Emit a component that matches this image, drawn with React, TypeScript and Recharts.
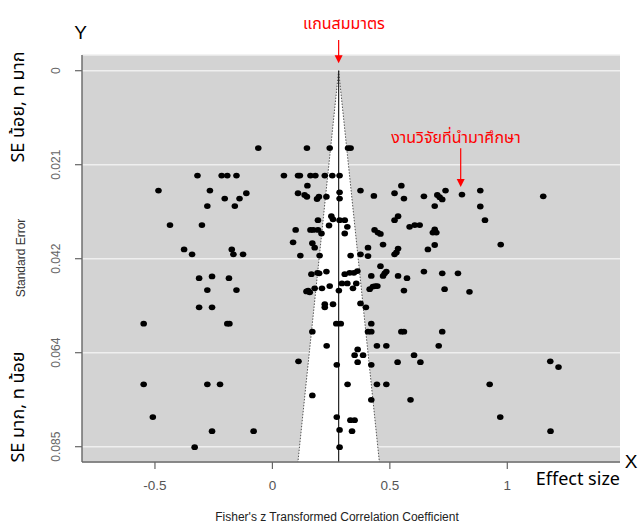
import { CartesianGrid, ReferenceLine, Scatter, ScatterChart, XAxis, YAxis } from 'recharts'

// Fisher's z (effect) and standard error of each study, grouped by where they sit
const leftZ = [
  -0.06, -0.319, -0.216, -0.192, -0.153, -0.485, -0.266, -0.111, -0.203, -0.14,
  -0.277, -0.16, -0.436, -0.3, -0.376, -0.342, -0.173, -0.166, -0.125, -0.312,
  -0.257, -0.185, -0.277, -0.153, -0.312, -0.257, -0.548, -0.192, -0.183, -0.548,
  -0.277, -0.223, -0.509, -0.257, -0.08, -0.331, 0.049,
]
const leftSE = [
  0.0175, 0.0237, 0.0237, 0.0237, 0.0237, 0.0271, 0.0271, 0.0277, 0.0289, 0.0289,
  0.0306, 0.0306, 0.0349, 0.0349, 0.0404, 0.0415, 0.0404, 0.0415, 0.0415, 0.0469,
  0.0465, 0.0469, 0.0496, 0.0496, 0.0535, 0.0535, 0.0572, 0.0572, 0.0572, 0.0709,
  0.0709, 0.0709, 0.0783, 0.0815, 0.0815, 0.0851, 0.0237,
]

const upperZ = [
  0.147, 0.244, 0.322, 0.333, 0.109, 0.117, 0.162, 0.183, 0.223, 0.255,
  0.286, 0.149, 0.109, 0.137, 0.147, 0.19, 0.198, 0.23, 0.286, 0.286,
  0.375, 0.432, 0.52, 0.549, 0.56, 0.645, 0.702, 0.712, 0.723, 0.737,
  0.807, 0.885, 0.885, 0.905, 0.972, 1.153, 0.691,
  0.194, 0.251, 0.258, 0.286, 0.308, 0.241, 0.319, 0.52, 0.535, 0.584,
  0.606, 0.627, 0.099, 0.162, 0.194, 0.209, 0.308, 0.088, 0.17, 0.18,
  0.119, 0.201, 0.333, 0.435, 0.449, 0.46, 0.691, 0.683, 0.698, 0.471,
  0.535, 0.528, 0.52, 0.662, 0.691, 0.407, 0.375, 0.407, 0.174,
]
const upperSE = [
  0.0175, 0.0175, 0.0175, 0.0175, 0.0237, 0.0237, 0.0237, 0.0237, 0.0237, 0.0237,
  0.0237, 0.026, 0.0277, 0.0281, 0.0285, 0.029, 0.0285, 0.0285, 0.0275, 0.0289,
  0.0271, 0.0283, 0.0277, 0.026, 0.0289, 0.0284, 0.0281, 0.0286, 0.0291, 0.0271,
  0.028, 0.0271, 0.0307, 0.0338, 0.0393, 0.0284, 0.0306,
  0.0338, 0.0329, 0.0336, 0.0338, 0.0338, 0.035, 0.0353, 0.0338, 0.0329, 0.0353,
  0.0349, 0.0349, 0.036, 0.036, 0.036, 0.0368, 0.0368, 0.0388, 0.039, 0.04,
  0.0418, 0.0418, 0.0418, 0.036, 0.0366, 0.0369, 0.0359, 0.0366, 0.0366, 0.0393,
  0.0402, 0.0411, 0.0415, 0.0404, 0.0394, 0.04, 0.0415, 0.0419, 0.036,
]

const lowerZ = [
  0.166, 0.192, 0.199, 0.23, 0.308, 0.329, 0.347, 0.362, 0.145, 0.152,
  0.159, 0.18, 0.211, 0.244, 0.283, 0.296, 0.319, 0.343, 0.357, 0.223,
  0.223, 0.258, 0.46, 0.485, 0.478, 0.471, 0.421, 0.535, 0.573, 0.645,
  0.723, 0.79, 0.414, 0.428, 0.438, 0.447, 0.56, 0.733, 0.839, 0.375, 0.398,
  0.272, 0.291, 0.421, 0.17, 0.407, 0.421, 0.549, 0.56, 0.723, 0.231,
  0.445, 0.485, 0.708, 0.363, 0.35, 0.386, 0.363, 0.111, 0.274, 0.421,
  0.533, 0.603, 0.63, 1.183, 1.218, 0.32, 0.445, 0.485, 0.925, 0.17,
  0.421, 0.588, 0.274, 0.332, 0.35, 0.286, 0.339, 0.286, 0.97, 1.184,
]
const lowerSE = [
  0.046, 0.0457, 0.0458, 0.0454, 0.046, 0.0457, 0.0457, 0.0453, 0.0499, 0.0497,
  0.0501, 0.0492, 0.0492, 0.0487, 0.0497, 0.0481, 0.0481, 0.0492, 0.0481, 0.0528,
  0.0535, 0.0528, 0.0442, 0.0454, 0.0458, 0.0464, 0.0464, 0.0464, 0.0469, 0.0454,
  0.0458, 0.0458, 0.0494, 0.0488, 0.0487, 0.0487, 0.0497, 0.0494, 0.05, 0.0526, 0.0535,
  0.0572, 0.0572, 0.0572, 0.059, 0.059, 0.059, 0.059, 0.059, 0.059, 0.0622,
  0.0622, 0.0622, 0.0622, 0.063, 0.0643, 0.0643, 0.0659, 0.0657, 0.0665, 0.0665,
  0.0659, 0.0643, 0.0659, 0.0657, 0.067, 0.0709, 0.0709, 0.0709, 0.0709, 0.0734,
  0.0744, 0.0744, 0.0783, 0.079, 0.079, 0.0812, 0.0815, 0.0851, 0.0783, 0.0815,
]

// pooled estimate (axis of symmetry)
const pooledZ = 0.282

const xTicks = [-0.5, 0, 0.5, 1]
const yTicks = [0, 0.02125, 0.0425, 0.06375, 0.085]
const yTickLabels = ['0', '0.021', '0.042', '0.064', '0.085']
const xDomain = [-0.8106, 1.4798]
const yDomain = [-0.00355, 0.08846]

const studies = [
  ...leftZ.map((z, i) => ({ z, se: leftSE[i] })),
  ...upperZ.map((z, i) => ({ z, se: upperSE[i] })),
  ...lowerZ.map((z, i) => ({ z, se: lowerSE[i] })),
]

const seMax = yDomain[1]
const ciLeft = pooledZ - 1.96 * seMax
const ciRight = pooledZ + 1.96 * seMax

const W = 638
const H = 524
const sans = '"Liberation Sans", Arial, sans-serif'
const thai = '"Noto Sans Thai", Tahoma, "Noto Sans", "DejaVu Sans", sans-serif'

function FunnelFill(props: any) {
  const { x1, y1, x2, y2 } = props
  const x3 = 2 * x1 - x2
  return <polygon points={`${x1},${y1} ${x2},${y2} ${x3},${y2}`} fill="#ffffff" />
}

function RedArrow(props: any) {
  const { x1, y1, x2, y2 } = props
  return (
    <g>
      <line x1={x1} y1={y1} x2={x2} y2={y2 - 6} stroke="#ff0000" strokeWidth={1.2} />
      <polygon points={`${x2 - 4},${y2 - 8} ${x2 + 4},${y2 - 8} ${x2},${y2}`} fill="#ff0000" />
    </g>
  )
}

function Dot(props: any) {
  return <ellipse cx={props.cx} cy={props.cy} rx={3.3} ry={2.9} fill="#000" />
}

function XTick({ x, y, payload }: any) {
  return (
    <text x={x} y={y + 19} textAnchor="middle" fontSize={13.5} fill="#555" fontFamily={sans}>
      {payload.value}
    </text>
  )
}

function YTick({ x, y, payload }: any) {
  const i = yTicks.findIndex((t) => Math.abs(t - payload.value) < 1e-6)
  const cx = x - 16.5
  return (
    <text
      x={cx}
      y={y}
      transform={`rotate(-90 ${cx} ${y})`}
      textAnchor="middle"
      dominantBaseline="central"
      fontSize={12}
      fill="#666"
      fontFamily={sans}
    >
      {yTickLabels[i]}
    </text>
  )
}

function SideLabel({ cx, cy, children }: { cx: number; cy: number; children: string }) {
  return (
    <text
      x={cx}
      y={cy}
      transform={`rotate(-90 ${cx} ${cy})`}
      textAnchor="middle"
      dominantBaseline="central"
      fontSize={18}
      fill="#000"
      fontFamily={thai}
    >
      {children}
    </text>
  )
}

export default function App() {
  return (
    <div style={{ position: 'relative', width: W, height: H, fontFamily: sans }}>
      <style>{'body { margin: 0; }'}</style>
      <ScatterChart width={W} height={H} margin={{ top: 55, right: 18, left: 8, bottom: 32 }}>
        <CartesianGrid vertical={false} fill="#d3d3d3" fillOpacity={1} stroke="#efefef" strokeWidth={1.6} />
        <XAxis
          type="number"
          dataKey="z"
          domain={xDomain}
          ticks={xTicks}
          allowDataOverflow
          height={30}
          tickSize={7}
          tick={<XTick />}
          axisLine={{ stroke: '#666', strokeWidth: 1.4 }}
          tickLine={{ stroke: '#666', strokeWidth: 1.2 }}
        />
        <YAxis
          type="number"
          dataKey="se"
          reversed
          domain={yDomain}
          ticks={yTicks}
          allowDataOverflow
          width={74}
          tickSize={7}
          tick={<YTick />}
          axisLine={{ stroke: '#666', strokeWidth: 1.4 }}
          tickLine={{ stroke: '#666', strokeWidth: 1.2 }}
        />
        <ReferenceLine
          segment={[{ x: pooledZ, y: 0 }, { x: ciLeft, y: seMax }]}
          shape={FunnelFill}
          ifOverflow="visible"
        />
        <ReferenceLine
          segment={[{ x: pooledZ, y: 0 }, { x: ciLeft, y: seMax }]}
          stroke="#555"
          strokeWidth={1}
          strokeDasharray="1.5 1.5"
          ifOverflow="visible"
        />
        <ReferenceLine
          segment={[{ x: pooledZ, y: 0 }, { x: ciRight, y: seMax }]}
          stroke="#555"
          strokeWidth={1}
          strokeDasharray="1.5 1.5"
          ifOverflow="visible"
        />
        <ReferenceLine
          segment={[{ x: pooledZ, y: 0 }, { x: pooledZ, y: seMax }]}
          stroke="#222"
          strokeWidth={1.2}
          ifOverflow="visible"
        />
        <Scatter data={studies} shape={Dot} isAnimationActive={false} />
        <ReferenceLine
          segment={[{ x: pooledZ, y: -0.00694 }, { x: pooledZ, y: -0.0017 }]}
          shape={RedArrow}
          ifOverflow="visible"
        />
        <ReferenceLine
          segment={[{ x: 0.8016, y: 0.01755 }, { x: 0.8016, y: 0.02629 }]}
          shape={RedArrow}
          ifOverflow="visible"
        />
      </ScatterChart>
      <svg
        width={W}
        height={H}
        style={{ position: 'absolute', left: 0, top: 0, pointerEvents: 'none' }}
      >
        <text x={80.5} y={39} textAnchor="middle" fontSize={19} fontFamily={sans}>Y</text>
        <text x={631} y={468} textAnchor="middle" fontSize={19} fontFamily={sans}>X</text>
        <text x={620} y={485} textAnchor="end" fontSize={18} fontFamily={thai}>Effect size</text>
        <text x={344} y={28.5} textAnchor="middle" fontSize={16} fill="#ff0000" fontFamily={thai}>แกนสมมาตร</text>
        <text x={456} y={143} textAnchor="middle" fontSize={16} fill="#ff0000" fontFamily={thai}>งานวิจัยที่นำมาศึกษา</text>
        <SideLabel cx={18} cy={107}>SE น้อย, n มาก</SideLabel>
        <SideLabel cx={18} cy={407}>SE มาก, n น้อย</SideLabel>
        <text
          x={21}
          y={258}
          transform="rotate(-90 21 258)"
          textAnchor="middle"
          dominantBaseline="central"
          fontSize={12}
          fill="#333"
          fontFamily={sans}
        >
          Standard Error
        </text>
        <text x={337} y={521} textAnchor="middle" fontSize={12} fill="#222" fontFamily={sans}>
          Fisher's z Transformed Correlation Coefficient
        </text>
      </svg>
    </div>
  )
}
